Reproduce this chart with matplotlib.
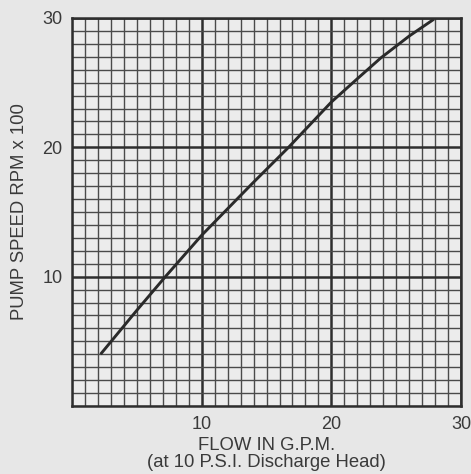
"""Pump speed vs flow curve on a fine grid, drawn like the printed chart."""

import matplotlib.pyplot as plt
from matplotlib.ticker import MultipleLocator

# values
flow_gpm = [2.2, 5.0, 7.2, 10.0, 13.9, 16.7, 20.0, 22.0, 23.8, 26.0, 27.9]
speed_rpm_x100 = [4.0, 7.4, 10.0, 13.2, 17.2, 20.0, 23.5, 25.3, 26.9, 28.6, 29.9]

tick_values = [10, 20, 30]
tick_labels = ["10", "20", "30"]

paper = "#e7e7e7"
ink = "#3a3a3a"

plt.rcParams["font.family"] = ["Liberation Sans", "DejaVu Sans"]

fig = plt.figure(figsize=(4.71, 4.74), dpi=100, facecolor=paper)
ax = fig.add_axes([0.1529, 0.1435, 0.826, 0.8186], facecolor="#ececec")

ax.set_xlim(0, 30)
ax.set_ylim(0, 30)

ax.xaxis.set_major_locator(MultipleLocator(10))
ax.yaxis.set_major_locator(MultipleLocator(10))
ax.xaxis.set_minor_locator(MultipleLocator(1))
ax.yaxis.set_minor_locator(MultipleLocator(1))
ax.set_xticks(tick_values, tick_labels)
ax.set_yticks(tick_values, tick_labels)

ax.grid(which="minor", color="#4a4a4a", linewidth=1.0)
ax.grid(which="major", color="#2e2e2e", linewidth=1.8)
ax.set_axisbelow(True)

ax.tick_params(which="both", length=0, labelsize=13, labelcolor=ink)
ax.tick_params(axis="x", pad=7)
ax.tick_params(axis="y", pad=7)
for spine in ax.spines.values():
    spine.set_color("#2e2e2e")
    spine.set_linewidth(1.8)

ax.plot(flow_gpm, speed_rpm_x100, color="#2a2a2a", linewidth=2.1, solid_capstyle="butt")

ax.set_xlabel("FLOW IN G.P.M.\n(at 10 P.S.I. Discharge Head)", fontsize=13.3, color=ink,
              linespacing=1.0, labelpad=3)
ax.set_ylabel("PUMP SPEED RPM x 100", fontsize=13.3, color=ink, labelpad=10)

fig.savefig("out.png", dpi=100, facecolor=paper)
